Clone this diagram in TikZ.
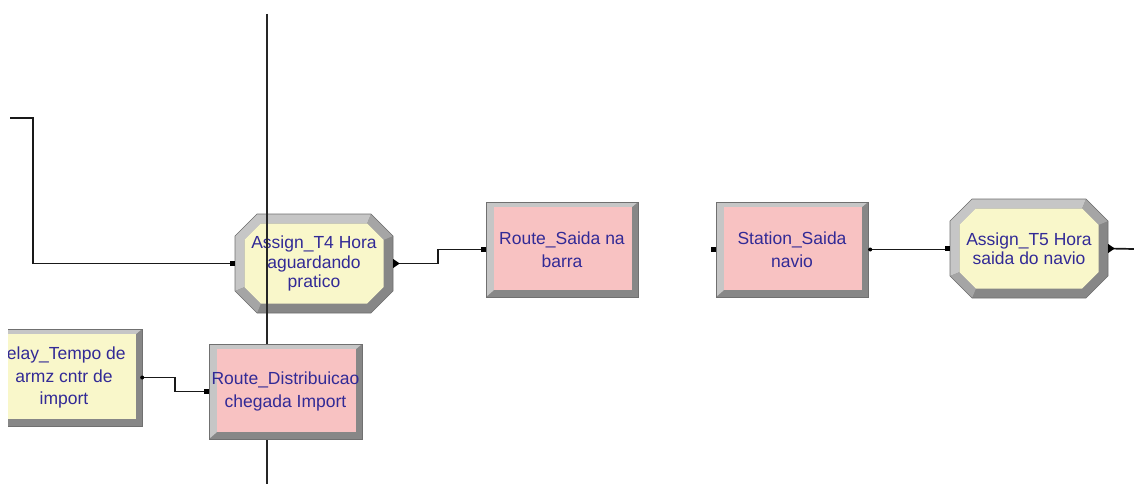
\documentclass[tikz,border=0pt]{standalone}
\usepackage{fontspec}
\setmainfont{Liberation Sans}
\usetikzlibrary{calc}

\definecolor{modtext}{RGB}{50,42,150}
\definecolor{routepink}{RGB}{248,194,194}
\definecolor{assignyellow}{RGB}{249,247,202}
\definecolor{bevlight}{RGB}{198,198,198}
\definecolor{bevmid}{RGB}{165,165,165}
\definecolor{bevdark}{RGB}{135,135,135}
\definecolor{bevedge}{RGB}{112,112,112}

% chamfer size, bevel width and inner chamfer offset of the octagonal modules
\newcommand{\octc}{22}
\newcommand{\octw}{9.5}
\newcommand{\octi}{25.9}

% bevelled rectangle: left, top, right, bottom, fill colour
\newcommand{\bevbox}[5]{%
  \fill[bevdark] (#1,#2) rectangle (#3,#4);
  \fill[bevlight] (#1,#2) -- (#3,#2) -- (#3-6,#2+5) -- (#1+8,#2+5) -- (#1+8,#4-7) -- (#1,#4) -- cycle;
  \fill[#5] (#1+8,#2+5) rectangle (#3-6,#4-7);
  \draw[bevedge, line width=0.6pt] (#1,#2) rectangle (#3,#4);
}

% bevelled octagon: left, top, right, bottom, fill colour
\newcommand{\bevoct}[5]{%
  \fill[bevdark] (#1,#2+\octc) -- (#1+\octc,#2) -- (#3-\octc,#2) -- (#3,#2+\octc)
     -- (#3,#4-\octc) -- (#3-\octc,#4) -- (#1+\octc,#4) -- (#1,#4-\octc) -- cycle;
  \fill[bevlight] (#1,#4-\octc) -- (#1,#2+\octc) -- (#1+\octc,#2) -- (#3-\octc,#2)
     -- (#3-\octi,#2+\octw) -- (#1+\octi,#2+\octw) -- (#1+\octw,#2+\octi) -- (#1+\octw,#4-\octi) -- cycle;
  \fill[bevmid] (#3-\octc,#2) -- (#3,#2+\octc) -- (#3-\octw,#2+\octi) -- (#3-\octi,#2+\octw) -- cycle;
  \fill[bevmid] (#1,#4-\octc) -- (#1+\octc,#4) -- (#1+\octi,#4-\octw) -- (#1+\octw,#4-\octi) -- cycle;
  \fill[#5] (#1+\octw,#2+\octi) -- (#1+\octi,#2+\octw) -- (#3-\octi,#2+\octw) -- (#3-\octw,#2+\octi)
     -- (#3-\octw,#4-\octi) -- (#3-\octi,#4-\octw) -- (#1+\octi,#4-\octw) -- (#1+\octw,#4-\octi) -- cycle;
  \draw[bevedge, line width=0.6pt] (#1,#2+\octc) -- (#1+\octc,#2) -- (#3-\octc,#2) -- (#3,#2+\octc)
     -- (#3,#4-\octc) -- (#3-\octc,#4) -- (#1+\octc,#4) -- (#1,#4-\octc) -- cycle;
}

% entry square, exit dot and exit triangle of a module
\newcommand{\entrymark}[1]{\fill[black] ($(#1.west)+(-5,-2.6)$) rectangle ($(#1.west)+(0,2.6)$);}
\newcommand{\exitdot}[1]{\fill[black] ($(#1.east)+(2,0)$) circle (2pt);}
\newcommand{\exittri}[1]{\fill[black] ($(#1.east)+(0,-4.5)$) -- ($(#1.east)+(6.5,0)$) -- ($(#1.east)+(0,4.5)$) -- cycle;}

\tikzset{
  modlabel/.style={rectangle, inner sep=0pt, text=modtext, align=center},
  rectlabel/.style={modlabel, minimum width=152pt, minimum height=95pt,
    font=\fontsize{17.5}{22.5}\selectfont},
  octlabel/.style={modlabel, minimum width=158pt, minimum height=99pt,
    font=\fontsize{17.5}{19.5}\selectfont},
  conn/.style={draw=black!90, line width=1.7pt},
  guide/.style={draw=black!85, line width=1.7pt},
}

\begin{document}
\begin{tikzpicture}[x=1pt, y=-1pt]
\useasboundingbox (0,0) rectangle (1134,484);
\fill[white] (0,0) rectangle (1134,484);

\begin{scope}
\clip (8,0) rectangle (1134,484);

% Delay module, left part cut by the frame
\bevbox{-10}{329}{142}{426}{assignyellow}
\node[rectlabel] (dl) at (64,377.5) {Delay\_Tempo de\hspace*{8pt}\\armz cntr de\\import};

% Assign_T4
\bevoct{235}{214}{393}{313}{assignyellow}
\node[octlabel] (t4) at (314,263.5) {Assign\_T4 Hora\\aguardando\\pratico};

% vertical guide line
\coordinate (vtop) at (267,14);
\coordinate (vbot) at (267,484);
\draw[guide] (vtop) -- (vbot);

% Route_Distribuicao
\bevbox{209}{344}{362}{439}{routepink}
\node[rectlabel, minimum width=153pt] (rd) at (285.5,391.5) {Route\_Distribuicao\\chegada Import};

% Route_Saida
\bevbox{486}{202}{638}{297}{routepink}
\node[rectlabel] (rs) at (562,249.5) {Route\_Saida na\\barra};

% Station_Saida
\bevbox{716}{202}{868}{297}{routepink}
\node[rectlabel] (ss) at (792,249.5) {Station\_Saida\\navio};

% Assign_T5
\bevoct{950}{199}{1108}{298}{assignyellow}
\node[octlabel] (t5) at (1029,248.5) {Assign\_T5 Hora\\saida do navio};

% connectors
\coordinate (lin) at (10,118);
\coordinate (rout) at (1134,249);
\draw[conn] (lin) -- (33,118) |- (t4.west);
\draw[conn] (t4.east) -- ([xshift=45pt]t4.east) |- (rs.west);
\draw[conn] (ss.east) -- (ss.east -| t5.west);
\draw[conn] (t5.east) -- (rout);
\draw[conn] ([xshift=2pt]dl.east) -- ([xshift=35pt]dl.east) |- (rd.west);

% connection points
\entrymark{t4}
\entrymark{rs}
\entrymark{ss}
\entrymark{t5}
\entrymark{rd}
\exittri{t4}
\exittri{t5}
\exitdot{ss}
\exitdot{dl}
\end{scope}
\end{tikzpicture}
\end{document}
